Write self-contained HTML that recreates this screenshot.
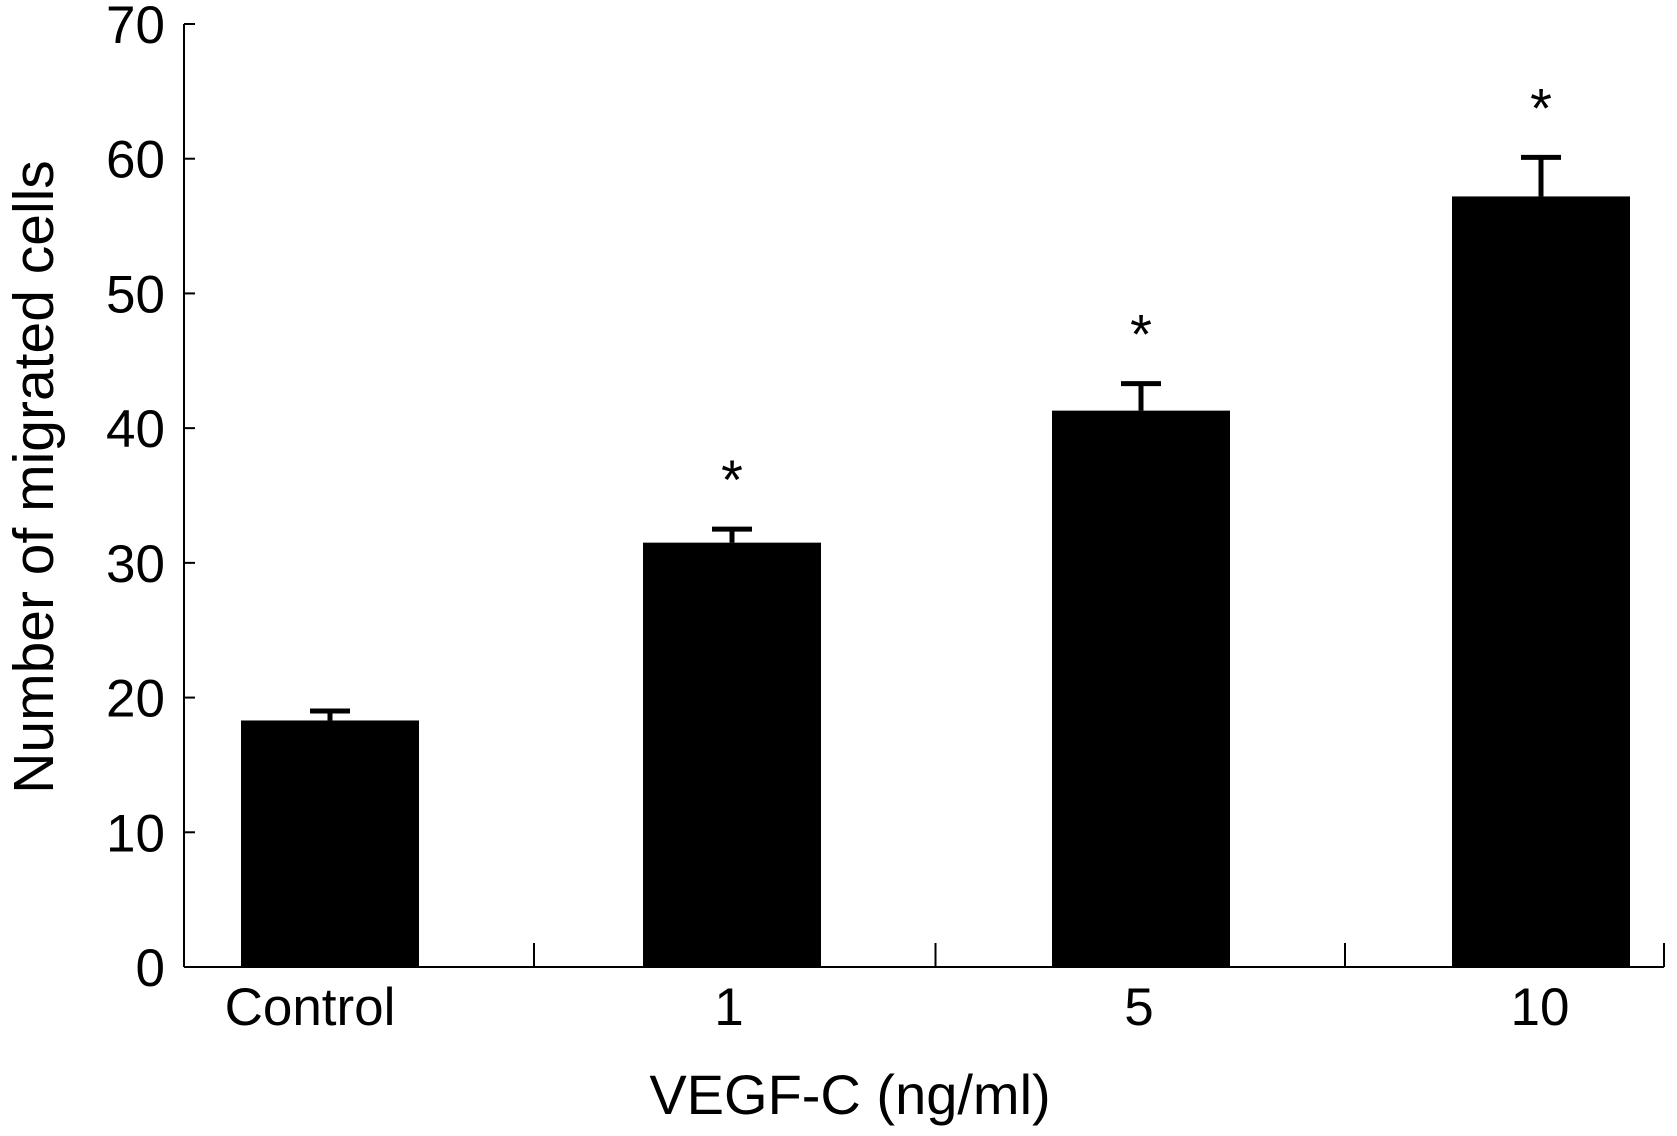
<!DOCTYPE html>
<html><head><meta charset="utf-8"><style>
html,body{margin:0;padding:0;background:#fff}
svg{display:block;font-family:"Liberation Sans",Arial,sans-serif}
</style></head><body>
<svg id="chart" width="1677" height="1136" viewBox="0 0 1677 1136" xmlns="http://www.w3.org/2000/svg">
<g id="axes"></g>
<g id="bars"></g>
<text transform="translate(53,477) rotate(-90)" text-anchor="middle" font-size="57">Number of migrated cells</text>
<text x="850" y="1114" text-anchor="middle" font-size="56">VEGF-C (ng/ml)</text>
</svg>
<script>
const categories = ["Control", "1", "5", "10"];
const values = [18.3, 31.5, 41.3, 57.2];
const errors = [0.7, 1.0, 2.0, 2.9];
const stars = [false, true, true, true];
const yTicks = [0, 10, 20, 30, 40, 50, 60, 70];

const NS = "http://www.w3.org/2000/svg";
const x0 = 184, x1 = 1664, y0 = 967, yTop = 24, yMax = 70;
const yScale = v => y0 - (v / yMax) * (y0 - yTop);
const barCenters = [330, 732, 1141, 1541];
const labelCenters = [310, 729, 1139, 1540];
const barW = 178;
const xScale = i => barCenters[i];

function mk(tag, attrs, parent) {
  const e = document.createElementNS(NS, tag);
  for (const k in attrs) e.setAttribute(k, attrs[k]);
  parent.appendChild(e);
  return e;
}
const axes = document.getElementById('axes');
const bars = document.getElementById('bars');

let l = mk('line', {x1: x0, y1: yTop, x2: x0, y2: y0, stroke: '#000', 'stroke-width': 2}, axes);


l = mk('line', {x1: x0, y1: y0, x2: x1, y2: y0, stroke: '#000', 'stroke-width': 2}, axes);



yTicks.forEach(t => {
  const y = yScale(t);
  const tk = mk('line', {x1: x0, y1: y, x2: x0 + 11, y2: y, stroke: '#000', 'stroke-width': 2}, axes);
  
  
  const tx = mk('text', {x: 165, y: y + 19, 'text-anchor': 'end', 'font-size': 53}, axes);
  tx.textContent = t;
  
  
});

for (let i = 0; i < categories.length; i++) {
  const sx = i < categories.length - 1 ? (xScale(i) + xScale(i + 1)) / 2 + (i === 0 ? 3 : i === 1 ? -1 : 4) : x1;
  const tk = mk('line', {x1: sx, y1: y0, x2: sx, y2: y0 - 24, stroke: '#000', 'stroke-width': 2}, axes);
  
  
}

categories.forEach((c, i) => {
  const cx = xScale(i);
  const top = yScale(values[i]);
  const r = mk('rect', {x: cx - barW / 2, y: top, width: barW, height: y0 - top, fill: '#000'}, bars);
  
  
  const eTop = yScale(values[i] + errors[i]);
  const ev = mk('line', {x1: cx, y1: top, x2: cx, y2: eTop, stroke: '#000', 'stroke-width': 5}, bars);
  
  
  const ec = mk('line', {x1: cx - 20, y1: eTop, x2: cx + 20, y2: eTop, stroke: '#000', 'stroke-width': 5}, bars);
  
  
  if (stars[i]) {
    const s = mk('text', {x: cx, y: eTop - 30, 'text-anchor': 'middle', 'font-size': 56}, bars);
    s.textContent = '*';
    
    
  }
  const lb = mk('text', {x: labelCenters[i], y: 1025, 'text-anchor': 'middle', 'font-size': 53}, axes);
  lb.textContent = c;
  
  
});
</script>
</body></html>
